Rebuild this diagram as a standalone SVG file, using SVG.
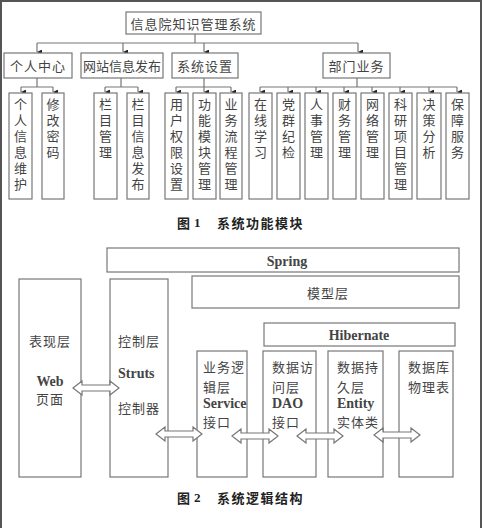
<svg xmlns="http://www.w3.org/2000/svg" width="482" height="528" viewBox="0 0 482 528">
<defs>
<marker id="ah" viewBox="0 0 8 8" refX="4" refY="8" markerWidth="5" markerHeight="5" orient="auto-start-reverse" markerUnits="userSpaceOnUse">
<path d="M0,0 L8,0 L4,8 Z" fill="#222"/>
</marker>
<style>
.bx{fill:#fff;stroke:#777;stroke-width:1.2}
.ln{fill:none;stroke:#777;stroke-width:1.2}
.t{font-family:"Noto Sans CJK SC","Noto Sans",sans-serif;font-size:13px;fill:#444;dominant-baseline:central}
.tv{font-family:"Noto Sans CJK SC","Noto Sans",sans-serif;font-size:13px;fill:#444;writing-mode:vertical-rl;letter-spacing:3px}
.lat{font-family:"Liberation Serif",serif;font-size:14px;font-weight:bold;fill:#444;dominant-baseline:central}
.cap{font-family:"Noto Sans CJK SC","Noto Sans",sans-serif;font-size:13px;font-weight:bold;fill:#222;dominant-baseline:central;letter-spacing:1.5px}
.capn{font-family:"Liberation Serif",serif;font-size:13px;font-weight:bold;fill:#222;dominant-baseline:central}
.da{fill:#fff;stroke:#777;stroke-width:1.2}
.mid{text-anchor:middle}
</style>
</defs>
<rect x="0" y="0" width="482" height="528" fill="#fff"/>
<path d="M1,528 L1,1 L481,1 L481,528" fill="none" stroke="#555" stroke-width="2"/>

<g id="connectors">
<path class="ln" d="M195,34 V43 M37,43 H358"/>
<path class="ln" d="M37,43 V52" marker-end="url(#ah)"/>
<path class="ln" d="M123,43 V52" marker-end="url(#ah)"/>
<path class="ln" d="M204,43 V52" marker-end="url(#ah)"/>
<path class="ln" d="M358,43 V52" marker-end="url(#ah)"/>
<path class="ln" d="M37,78 V87 M21,87 H53 M121,78 V87 M105,87 H138 M204,78 V87 M176,87 H231 M357,78 V87 M260,87 H457"/>
<path class="ln" d="M21,87 V92" marker-end="url(#ah)"/>
<path class="ln" d="M53,87 V92" marker-end="url(#ah)"/>
<path class="ln" d="M105,87 V92" marker-end="url(#ah)"/>
<path class="ln" d="M138,87 V92" marker-end="url(#ah)"/>
<path class="ln" d="M176,87 V92" marker-end="url(#ah)"/>
<path class="ln" d="M204,87 V92" marker-end="url(#ah)"/>
<path class="ln" d="M231,87 V92" marker-end="url(#ah)"/>
<path class="ln" d="M260,87 V92" marker-end="url(#ah)"/>
<path class="ln" d="M288,87 V92" marker-end="url(#ah)"/>
<path class="ln" d="M316,87 V92" marker-end="url(#ah)"/>
<path class="ln" d="M344,87 V92" marker-end="url(#ah)"/>
<path class="ln" d="M372,87 V92" marker-end="url(#ah)"/>
<path class="ln" d="M400,87 V92" marker-end="url(#ah)"/>
<path class="ln" d="M429,87 V92" marker-end="url(#ah)"/>
<path class="ln" d="M457,87 V92" marker-end="url(#ah)"/>
</g>

<g id="root"><rect class="bx" x="126" y="12" width="135" height="22"/><text class="t mid" x="193.5" y="23" letter-spacing="1">信息院知识管理系统</text></g>
<g id="n-grzx"><rect class="bx" x="4" y="53" width="68" height="25"/><text class="t mid" x="38" y="65.5" letter-spacing="1">个人中心</text></g>
<g id="n-wzxx"><rect class="bx" x="81" y="53" width="82" height="25"/><text class="t mid" x="122" y="65.5">网站信息发布</text></g>
<g id="n-xtsz"><rect class="bx" x="172" y="53" width="66" height="25"/><text class="t mid" x="205" y="65.5" letter-spacing="1">系统设置</text></g>
<g id="n-bmyw"><rect class="bx" x="323" y="53" width="67" height="25"/><text class="t mid" x="356.5" y="65.5" letter-spacing="1">部门业务</text></g>

<g id="l3-1"><rect class="bx" x="9" y="93" width="23" height="106"/><text class="tv" x="20.5" y="98">个人信息维护</text></g>
<g id="l3-2"><rect class="bx" x="42" y="93" width="22" height="106"/><text class="tv" x="53" y="98">修改密码</text></g>
<g id="l3-3"><rect class="bx" x="94" y="93" width="23" height="106"/><text class="tv" x="105.5" y="98">栏目管理</text></g>
<g id="l3-4"><rect class="bx" x="127" y="93" width="22" height="106"/><text class="tv" x="138" y="98">栏目信息发布</text></g>
<g id="l3-5"><rect class="bx" x="165" y="93" width="23" height="106"/><text class="tv" x="176.5" y="98">用户权限设置</text></g>
<g id="l3-6"><rect class="bx" x="193" y="93" width="23" height="106"/><text class="tv" x="204.5" y="98">功能模块管理</text></g>
<g id="l3-7"><rect class="bx" x="220" y="93" width="22" height="106"/><text class="tv" x="231" y="98">业务流程管理</text></g>
<g id="l3-8"><rect class="bx" x="249" y="93" width="23" height="106"/><text class="tv" x="260.5" y="98">在线学习</text></g>
<g id="l3-9"><rect class="bx" x="277" y="93" width="23" height="106"/><text class="tv" x="288.5" y="98">党群纪检</text></g>
<g id="l3-10"><rect class="bx" x="305" y="93" width="23" height="106"/><text class="tv" x="316.5" y="98">人事管理</text></g>
<g id="l3-11"><rect class="bx" x="333" y="93" width="23" height="106"/><text class="tv" x="344.5" y="98">财务管理</text></g>
<g id="l3-12"><rect class="bx" x="361" y="93" width="23" height="106"/><text class="tv" x="372.5" y="98">网络管理</text></g>
<g id="l3-13"><rect class="bx" x="389" y="93" width="23" height="106"/><text class="tv" x="400.5" y="98">科研项目管理</text></g>
<g id="l3-14"><rect class="bx" x="417" y="93" width="24" height="106"/><text class="tv" x="429" y="98">决策分析</text></g>
<g id="l3-15"><rect class="bx" x="446" y="93" width="23" height="106"/><text class="tv" x="457.5" y="98">保障服务</text></g>

<g id="cap1"><text class="cap" x="177" y="222">图</text><text class="capn" x="194" y="222">1</text><text class="cap" x="217" y="222">系统功能模块</text></g>

<g id="spring"><rect class="bx" x="107" y="248" width="352" height="24"/><text class="lat mid" x="287" y="261">Spring</text></g>
<g id="model"><rect class="bx" x="192" y="276" width="267" height="32"/><text class="t mid" x="328" y="292.5" letter-spacing="1">模型层</text></g>
<g id="hibernate"><rect class="bx" x="264" y="323" width="191" height="23"/><text class="lat mid" x="359" y="335">Hibernate</text></g>
<g id="view"><rect class="bx" x="19" y="279" width="62" height="198"/><text class="t mid" x="50" y="340" letter-spacing="1">表现层</text><text class="lat mid" x="50" y="381">Web</text><text class="t mid" x="50" y="398" letter-spacing="1">页面</text></g>
<g id="ctrl"><rect class="bx" x="110" y="279" width="58" height="198"/><text class="t" x="118" y="340" letter-spacing="1">控制层</text><text class="lat" x="118" y="373">Struts</text><text class="t" x="118" y="407" letter-spacing="1">控制器</text></g>
<g id="service"><rect class="bx" x="197" y="351" width="50" height="126"/><text class="t" x="203" y="366" letter-spacing="1">业务逻</text><text class="t" x="203" y="386" letter-spacing="1">辑层</text><text class="lat" x="203" y="403">Service</text><text class="t" x="203" y="421" letter-spacing="1">接口</text></g>
<g id="dao"><rect class="bx" x="263" y="351" width="53" height="126"/><text class="t" x="272" y="366" letter-spacing="1">数据访</text><text class="t" x="272" y="386" letter-spacing="1">问层</text><text class="lat" x="272" y="403">DAO</text><text class="t" x="272" y="421" letter-spacing="1">接口</text></g>
<g id="entity"><rect class="bx" x="328" y="351" width="55" height="126"/><text class="t" x="337" y="366" letter-spacing="1">数据持</text><text class="t" x="337" y="386" letter-spacing="1">久层</text><text class="lat" x="337" y="403">Entity</text><text class="t" x="337" y="421" letter-spacing="1">实体类</text></g>
<g id="db"><rect class="bx" x="399" y="351" width="54" height="126"/><text class="t" x="408" y="366" letter-spacing="1">数据库</text><text class="t" x="408" y="386" letter-spacing="1">物理表</text></g>

<g id="connectors2">
<path class="da" d="M73,388 L82,381 L82,385 L110,385 L110,381 L119,388 L110,395 L110,391 L82,391 L82,395 Z"/>
<path class="da" d="M156,434 L165,427 L165,431 L193,431 L193,427 L202,434 L193,441 L193,437 L165,437 L165,441 Z"/>
<path class="da" d="M232,436 L241,429 L241,433 L269,433 L269,429 L278,436 L269,443 L269,439 L241,439 L241,443 Z"/>
<path class="da" d="M297,436 L306,429 L306,433 L334,433 L334,429 L343,436 L334,443 L334,439 L306,439 L306,443 Z"/>
<path class="da" d="M374,435 L383,428 L383,432 L411,432 L411,428 L420,435 L411,442 L411,438 L383,438 L383,442 Z"/>
</g>

<g id="cap2"><text class="cap" x="177" y="497">图</text><text class="capn" x="194" y="497">2</text><text class="cap" x="217" y="497">系统逻辑结构</text></g>
</svg>
